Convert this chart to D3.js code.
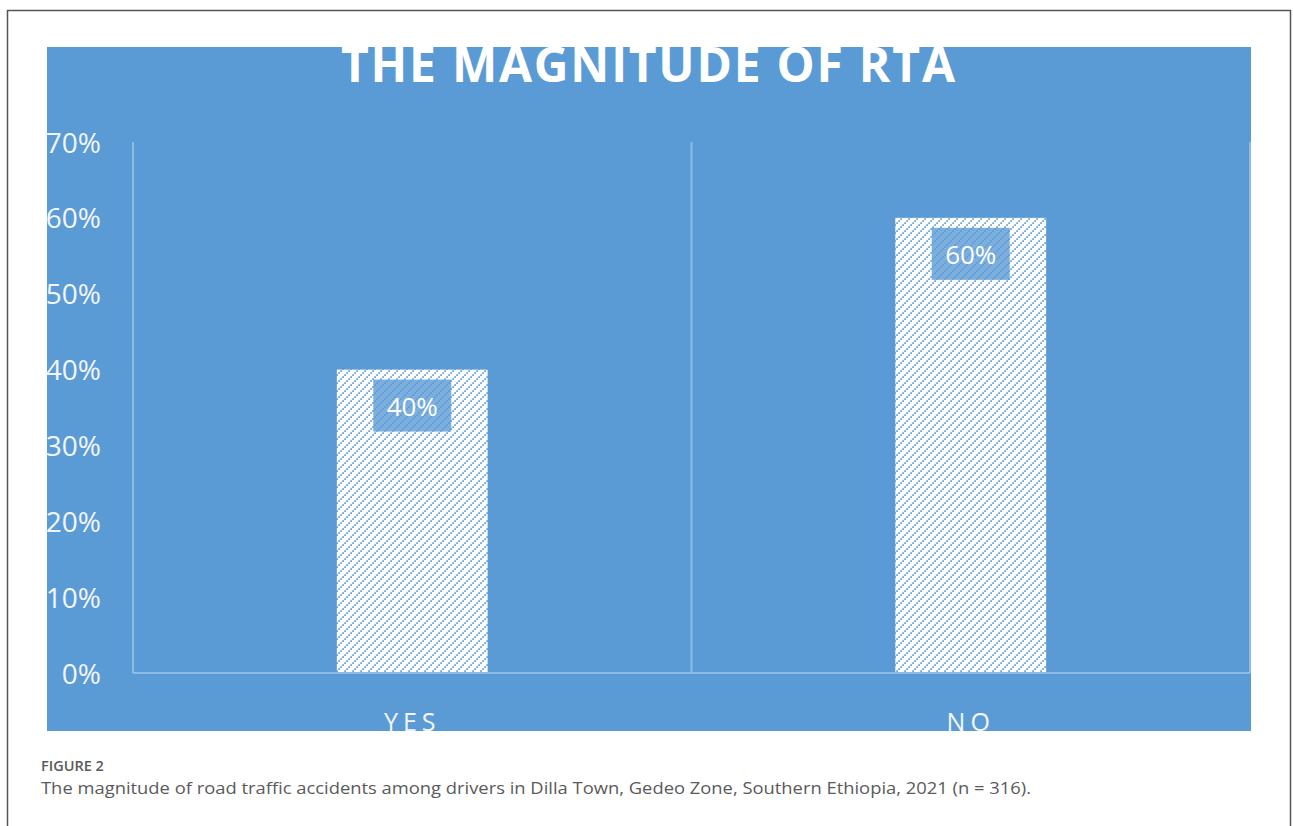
<!DOCTYPE html>
<html>
<head>
<meta charset="utf-8">
<script src="https://cdn.jsdelivr.net/npm/d3@7"></script>
<style>
  html, body { margin: 0; padding: 0; background: #fff; }
  svg { display: block; }
</style>
</head>
<body>
<svg id="chart" width="1293" height="826"></svg>
<script>
// Chart data
const categories = ["YES", "NO"];
const values = [0.40, 0.60];
const tickValues = [0, 0.1, 0.2, 0.3, 0.4, 0.5, 0.6, 0.7];
const title = "THE MAGNITUDE OF RTA";
const figureLabel = "FIGURE 2";
const caption = "The magnitude of road traffic accidents among drivers in Dilla Town, Gedeo Zone, Southern Ethiopia, 2021 (n = 316).";

const svg = d3.select("#chart");
const blue = "#5B9BD5";
const gridColor = "#8EBAE4";

// Outer frame of the figure
svg.append("rect")
  .attr("x", 7.5).attr("y", 10.5)
  .attr("width", 1283).attr("height", 830)
  .attr("fill", "#fff").attr("stroke", "#555").attr("stroke-width", 1.5);

// Chart panel
const panel = { x: 47, y: 47, w: 1204, h: 684 };
const defs = svg.append("defs");
defs.append("clipPath").attr("id", "panelClip")
  .append("rect").attr("x", panel.x).attr("y", panel.y)
  .attr("width", panel.w).attr("height", panel.h);

// Dotted diagonal hatch used for the bars
const pat = defs.append("pattern").attr("id", "hatch")
  .attr("patternUnits", "userSpaceOnUse")
  .attr("width", 8).attr("height", 8);
pat.append("rect").attr("width", 8).attr("height", 8).attr("fill", "#fff");
[[0, 6], [2, 4], [4, 2], [6, 0]].forEach(([px, py]) => {
  pat.append("rect").attr("x", px + 0.3).attr("y", py + 0.3)
    .attr("width", 1.6).attr("height", 1.6).attr("fill", "#4A90D8");
});

const g = svg.append("g").attr("clip-path", "url(#panelClip)");
g.append("rect").attr("x", panel.x).attr("y", panel.y)
  .attr("width", panel.w).attr("height", panel.h).attr("fill", blue);

// Scales
const plot = { left: 133, right: 1250, top: 142, bottom: 673 };
const x = d3.scaleBand().domain(categories).range([plot.left, plot.right]).padding(0);
const y = d3.scaleLinear().domain([0, 0.7]).range([plot.bottom, plot.top]);
const barFrac = 0.27;

// Category separators (vertical gridlines)
const seps = [plot.left, ...categories.map(c => x(c) + x.bandwidth())];
g.selectAll("line.sep").data(seps).join("line")
  .attr("class", "sep")
  .attr("x1", d => d).attr("x2", d => d)
  .attr("y1", y(0.7)).attr("y2", y(0))
  .attr("stroke", gridColor).attr("stroke-width", 2);

// Y axis labels
const yAxis = d3.axisLeft(y).tickValues(tickValues).tickFormat(d3.format(".0%")).tickSize(0).tickPadding(0);
const yg = g.append("g").attr("transform", `translate(101,0)`).call(yAxis);
yg.select(".domain").remove();
yg.selectAll("text")
  .attr("fill", "#F2F6FC")
  .attr("font-family", "'Open Sans', sans-serif")
  .attr("font-size", 28)
  .attr("dy", "0.36em");

// Bars
const barW = x.bandwidth() * barFrac;
g.selectAll("rect.bar").data(values).join("rect")
  .attr("class", "bar")
  .attr("x", (d, i) => x(categories[i]) + (x.bandwidth() - barW) / 2)
  .attr("y", d => y(d))
  .attr("width", barW)
  .attr("height", d => y(0) - y(d))
  .attr("fill", "url(#hatch)");

// Baseline
g.append("line")
  .attr("x1", plot.left).attr("x2", plot.right)
  .attr("y1", y(0)).attr("y2", y(0))
  .attr("stroke", gridColor).attr("stroke-width", 2);

// Value labels in boxes
const lbl = g.selectAll("g.vlabel").data(values).join("g")
  .attr("class", "vlabel")
  .attr("transform", (d, i) => `translate(${x(categories[i]) + x.bandwidth() / 2},${y(d) + 37})`);
lbl.append("rect")
  .attr("x", -39).attr("y", -27).attr("width", 78).attr("height", 52)
  .attr("fill", blue).attr("fill-opacity", 0.8);
lbl.append("text")
  .attr("text-anchor", "middle").attr("dy", "0.36em")
  .attr("fill", "#fff")
  .attr("font-family", "'Open Sans', sans-serif")
  .attr("font-size", 26)
  .text(d => d3.format(".0%")(d));

// Category labels
g.selectAll("text.cat").data(categories).join("text")
  .attr("class", "cat")
  .attr("x", d => x(d) + x.bandwidth() / 2)
  .attr("y", 731)
  .attr("text-anchor", "middle")
  .attr("fill", "#F2F6FC")
  .attr("font-family", "'Open Sans', sans-serif")
  .attr("font-size", 25)
  .attr("letter-spacing", 5)
  .text(d => d);

// Title
g.append("text")
  .attr("x", 648).attr("y", 82)
  .attr("text-anchor", "middle")
  .attr("fill", "#fff")
  .attr("font-family", "'Open Sans', sans-serif")
  .attr("font-weight", 700)
  .attr("font-size", 48)
  .attr("textLength", 614).attr("lengthAdjust", "spacing")
  .text(title);

// Figure caption
svg.append("text")
  .attr("x", 41).attr("y", 771)
  .attr("fill", "#5a5a5a")
  .attr("font-family", "'Open Sans', sans-serif")
  .attr("font-weight", 600)
  .attr("font-size", 14.5)
  .text(figureLabel);
svg.append("text")
  .attr("x", 41).attr("y", 794)
  .attr("fill", "#5a5a5a")
  .attr("font-family", "'Open Sans', sans-serif")
  .attr("font-size", 17)
  .attr("textLength", 990).attr("lengthAdjust", "spacingAndGlyphs")
  .text(caption);
</script>
</body>
</html>
